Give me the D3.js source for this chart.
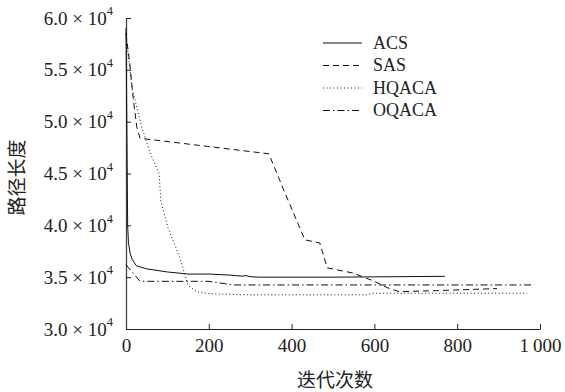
<!DOCTYPE html>
<html>
<head>
<meta charset="utf-8">
<script src="https://cdn.jsdelivr.net/npm/d3@7"></script>
<style>
  html, body { margin: 0; padding: 0; background: #fff; }
  svg text { font-family: "Liberation Serif", "Noto Sans CJK SC", serif; fill: #222; }
</style>
</head>
<body>
<div id="chart"></div>
<script>
// iteration / path length pairs
const acs = [[0, 59000], [2, 50000], [4, 40000], [6, 38300], [10, 37300], [15, 36700], [25, 36100], [50, 35800], [100, 35500], [150, 35300], [200, 35300], [250, 35200], [280, 35100], [290, 35150], [300, 35050], [320, 35000], [500, 35000], [770, 35080]];
const sas = [[0, 58500], [10, 55300], [17, 52400], [26, 49500], [34, 48400], [345, 46900], [380, 43500], [432, 38600], [468, 38300], [486, 35900], [548, 35400], [600, 34600], [630, 34000], [660, 33600], [750, 33700], [896, 33900]];
const hqaca = [[0, 58500], [14, 53300], [38, 49500], [58, 47000], [80, 45000], [84, 42400], [101, 39800], [130, 36900], [150, 34200], [171, 33600], [203, 33400], [283, 33300], [580, 33300], [600, 33450], [969, 33450]];
const oqaca = [[0, 36200], [34, 34600], [200, 34600], [258, 34250], [983, 34250]];

const seriesNames = ["ACS", "SAS", "HQACA", "OQACA"];
const seriesData = [acs, sas, hqaca, oqaca];
const dashes = [null, "6,4", "1,2.5", "7,3,1.5,3"];

const xTicks = [0, 200, 400, 600, 800, 1000];
const yTicks = [30000, 35000, 40000, 45000, 50000, 55000, 60000];

const width = 565, height = 392;
const margin = { left: 126, right: 25, top: 18, bottom: 63 };

const svg = d3.select("#chart").append("svg")
  .attr("width", width)
  .attr("height", height);

const x = d3.scaleLinear().domain([0, 1000]).range([margin.left, width - margin.right]);
const y = d3.scaleLinear().domain([30000, 60000]).range([height - margin.bottom, margin.top]);

/* x axis, ticks pointing inward */
svg.append("g")
  .attr("transform", `translate(0, ${y(30000)})`)
  .call(d3.axisBottom(x).tickValues(xTicks).tickSize(-5).tickSizeOuter(0).tickPadding(10)
    .tickFormat((d) => (d === 1000 ? "1\u2009000" : d)))
  .call((g) => {
    g.select(".domain").attr("stroke", "#222");
    g.selectAll(".tick line").attr("stroke", "#222");
    g.selectAll(".tick text").attr("font-size", 19).attr("fill", "#222");
  });

/* y axis, labels like 3.5 × 10^4 */
svg.append("g")
  .attr("transform", `translate(${x(0)}, 0)`)
  .call(d3.axisLeft(y).tickValues(yTicks).tickSize(-5).tickSizeOuter(0).tickPadding(13).tickFormat(""))
  .call((g) => {
    g.select(".domain").attr("stroke", "#444").attr("stroke-width", 1.3);
    g.selectAll(".tick line").attr("stroke", "#222");
    g.selectAll(".tick text").each(function (d) {
      const t = d3.select(this).attr("font-size", 19).attr("fill", "#222");
      t.append("tspan").text(`${(d / 10000).toFixed(1)} \u00d7 10`);
      t.append("tspan").attr("font-size", 12.5).attr("dy", "-0.75em").text("4");
    });
  });

/* axis titles */
svg.append("text")
  .attr("x", (x(0) + x(1000)) / 2 + 2)
  .attr("y", height - 5)
  .attr("text-anchor", "middle")
  .attr("font-size", 19)
  .attr("font-family", "Noto Sans CJK SC")
  .text("迭代次数");

svg.append("text")
  .attr("transform", `translate(24, ${(y(30000) + y(60000)) / 2 + 4}) rotate(-90)`)
  .attr("text-anchor", "middle")
  .attr("font-size", 19)
  .attr("font-family", "Noto Sans CJK SC")
  .text("路径长度");

/* series */
const line = d3.line().x((d) => x(d[0])).y((d) => y(d[1]));
svg.append("g")
  .selectAll("path")
  .data(seriesData)
  .join("path")
  .attr("d", line)
  .attr("fill", "none")
  .attr("stroke", "#111")
  .attr("stroke-width", 1)
  .attr("stroke-dasharray", (d, i) => dashes[i]);

/* legend */
const legend = svg.append("g").attr("transform", "translate(323, 43)");
const rows = legend.selectAll("g")
  .data(seriesNames)
  .join("g")
  .attr("transform", (d, i) => `translate(0, ${i * 22.5})`);
rows.append("line")
  .attr("x1", 0).attr("x2", 39)
  .attr("stroke", "#111")
  .attr("stroke-width", 1)
  .attr("stroke-dasharray", (d, i) => dashes[i]);
rows.append("text")
  .attr("x", 50)
  .attr("dy", "0.33em")
  .attr("font-size", 18)
  .text((d) => d);
</script>
</body>
</html>
